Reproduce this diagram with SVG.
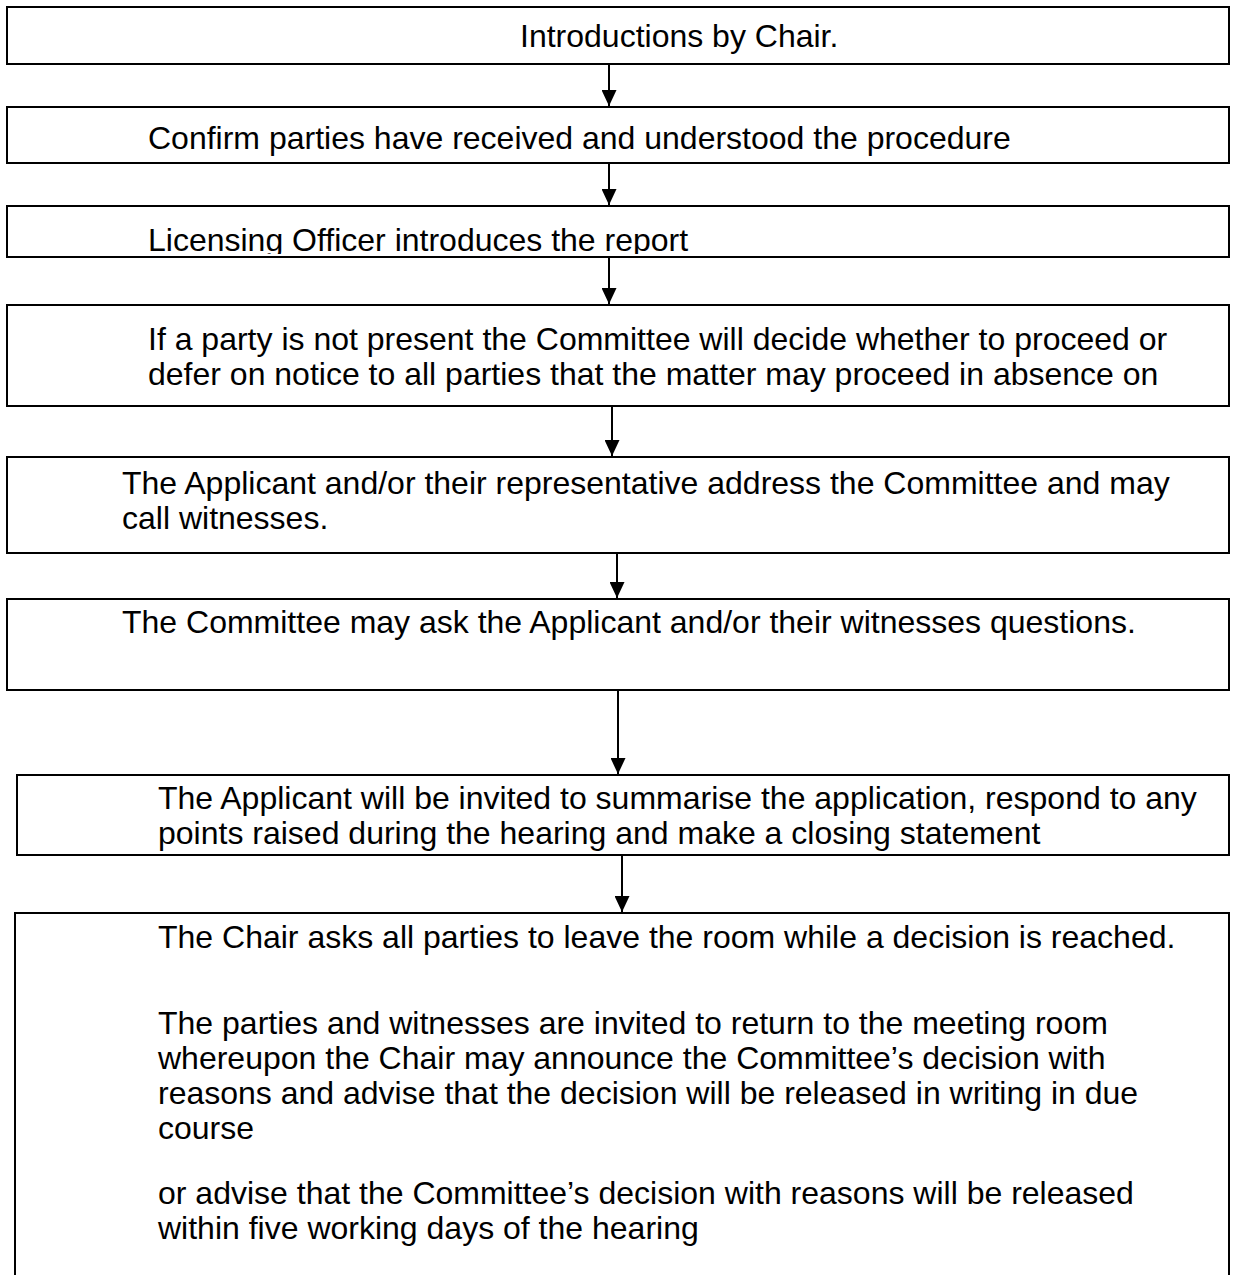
<svg xmlns="http://www.w3.org/2000/svg" width="1236" height="1275" viewBox="0 0 1236 1275">
<style>
.box{fill:#fff;stroke:#000;stroke-width:2}
.t{font-family:"Liberation Sans",Arial,sans-serif;font-size:32px;fill:#000}
.c{stroke:#000;stroke-width:2;fill:none}
</style>
<defs>
<marker id="ah" markerWidth="16" markerHeight="15" refX="16" refY="7.5" orient="auto" markerUnits="userSpaceOnUse" viewBox="0 0 16 15">
<path d="M0,0 L16,7.5 L0,15 Z" fill="#000"/>
</marker>
<clipPath id="clip3"><rect x="7" y="206" width="1222" height="48"/></clipPath>
</defs>
<rect width="1236" height="1275" fill="#fff"/>
<g id="connectors">
<line class="c" x1="609" y1="64" x2="609" y2="106" marker-end="url(#ah)"/>
<line class="c" x1="609" y1="163" x2="609" y2="205" marker-end="url(#ah)"/>
<line class="c" x1="609" y1="257" x2="609" y2="304" marker-end="url(#ah)"/>
<line class="c" x1="612" y1="406" x2="612" y2="456" marker-end="url(#ah)"/>
<line class="c" x1="617" y1="553" x2="617" y2="598" marker-end="url(#ah)"/>
<line class="c" x1="618" y1="690" x2="618" y2="774" marker-end="url(#ah)"/>
<line class="c" x1="622" y1="855" x2="622" y2="912" marker-end="url(#ah)"/>
</g>
<g id="n1"><rect class="box" x="7" y="7" width="1222" height="57"/><text class="t" x="520" y="47">Introductions by Chair.</text></g>
<g id="n2"><rect class="box" x="7" y="107" width="1222" height="56"/><text class="t" x="148" y="149">Confirm parties have received and understood the procedure</text></g>
<g id="n3"><rect class="box" x="7" y="206" width="1222" height="51"/><text class="t" x="148" y="251" clip-path="url(#clip3)">Licensing Officer introduces the report</text></g>
<g id="n4"><rect class="box" x="7" y="305" width="1222" height="101"/><text class="t" x="148" y="350">If a party is not present the Committee will decide whether to proceed or</text><text class="t" x="148" y="385">defer on notice to all parties that the matter may proceed in absence on</text></g>
<g id="n5"><rect class="box" x="7" y="457" width="1222" height="96"/><text class="t" x="122" y="494">The Applicant and/or their representative address the Committee and may</text><text class="t" x="122" y="529">call witnesses.</text></g>
<g id="n6"><rect class="box" x="7" y="599" width="1222" height="91"/><text class="t" x="122" y="633">The Committee may ask the Applicant and/or their witnesses questions.</text></g>
<g id="n7"><rect class="box" x="17" y="775" width="1212" height="80"/><text class="t" x="158" y="809">The Applicant will be invited to summarise the application, respond to any</text><text class="t" x="158" y="844">points raised during the hearing and make a closing statement</text></g>
<g id="n8"><rect class="box" x="15" y="913" width="1214" height="400"/>
<text class="t" x="158" y="948">The Chair asks all parties to leave the room while a decision is reached.</text>
<text class="t" x="158" y="1034">The parties and witnesses are invited to return to the meeting room</text>
<text class="t" x="158" y="1069">whereupon the Chair may announce the Committee’s decision with</text>
<text class="t" x="158" y="1104">reasons and advise that the decision will be released in writing in due</text>
<text class="t" x="158" y="1139">course</text>
<text class="t" x="158" y="1204">or advise that the Committee’s decision with reasons will be released</text>
<text class="t" x="158" y="1239">within five working days of the hearing</text>
</g>
</svg>
